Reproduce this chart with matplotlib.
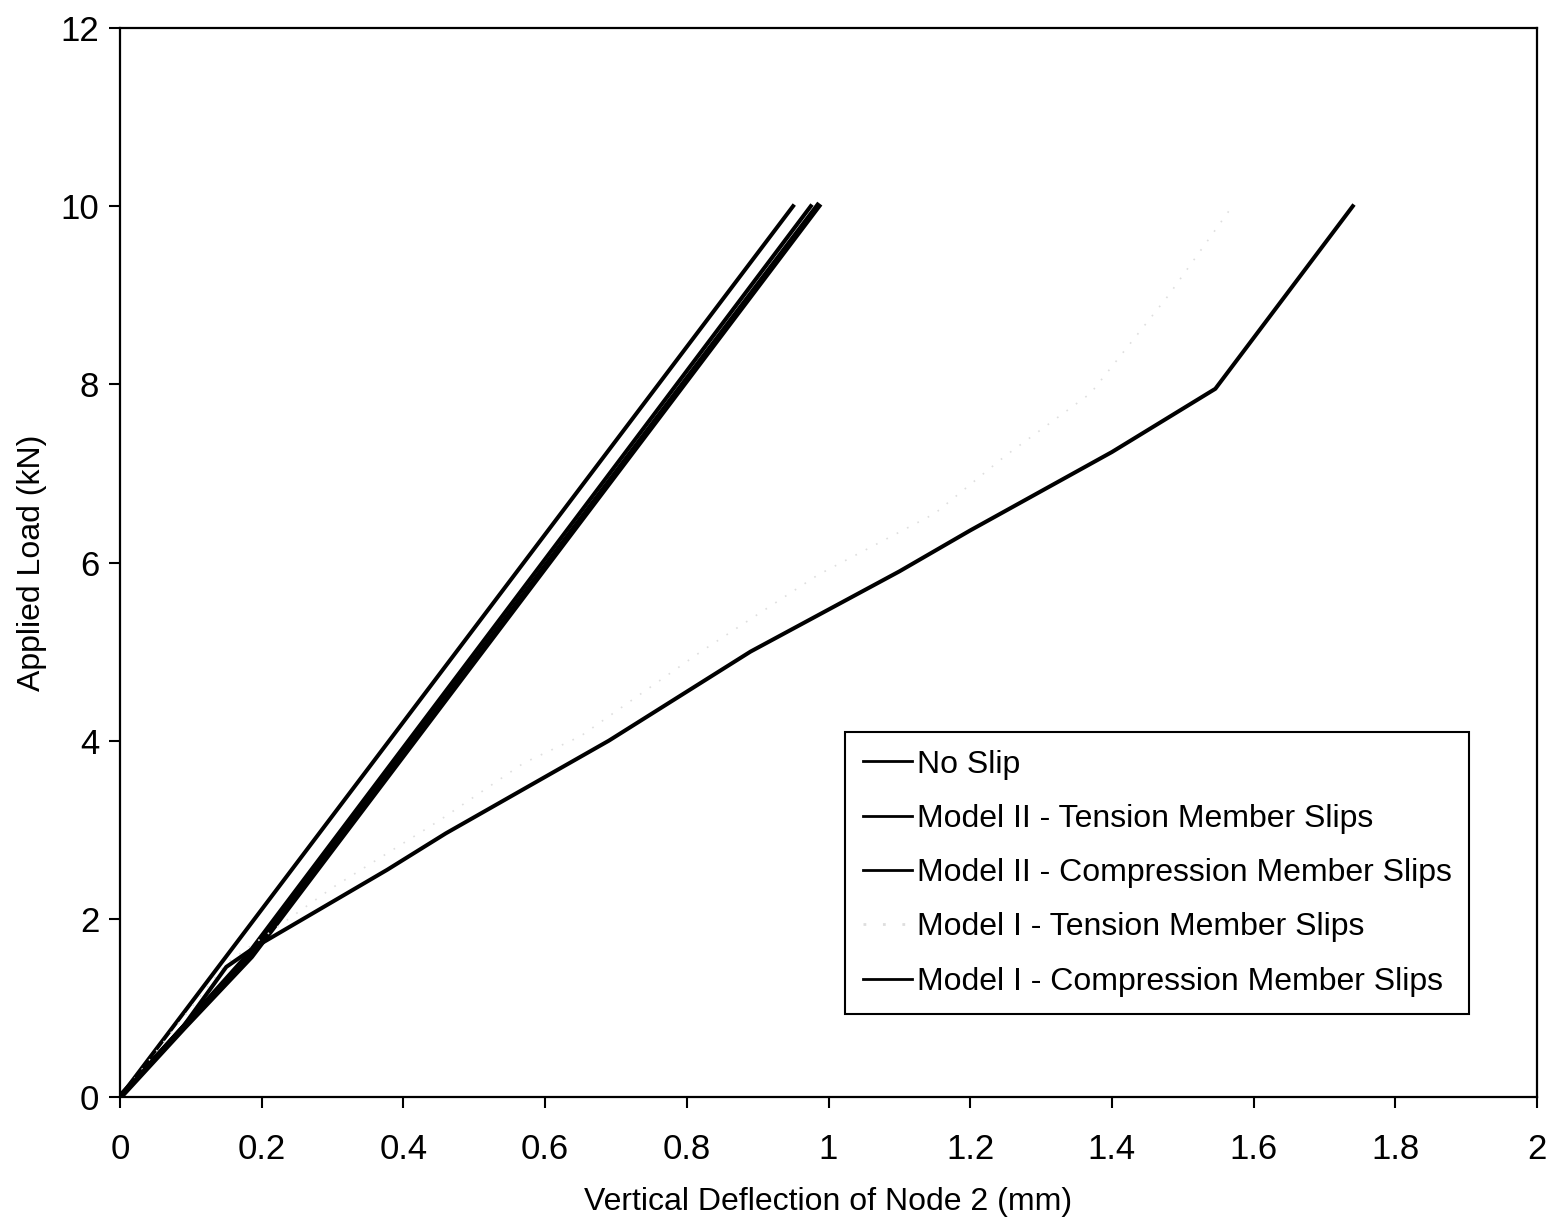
import matplotlib
matplotlib.use("Agg")
import matplotlib.pyplot as plt

plt.rcParams['font.family'] = ['Liberation Sans', 'DejaVu Sans']

# Data (deflection mm, load kN)
no_slip_x = [0.0, 0.95]
no_slip_y = [0.0, 10.0]

m2_tension_x = [0.0, 0.09, 0.18, 0.975]
m2_tension_y = [0.0, 0.80, 1.60, 10.0]

m2_comp_x = [0.0, 0.09, 0.185, 0.985]
m2_comp_y = [0.0, 0.78, 1.58, 10.0]

m1_tension_x = [0.0, 0.15, 0.30, 0.45, 0.57, 0.65, 0.82, 0.985, 1.15, 1.25, 1.37, 1.48, 1.57]
m1_tension_y = [0.0, 1.50, 2.35, 3.10, 3.75, 4.05, 5.00, 5.86, 6.55, 7.20, 7.90, 9.00, 10.0]

m1_comp_x = [0.0, 0.09, 0.15, 0.19, 0.377, 0.46, 0.69, 0.89, 1.10, 1.20, 1.40, 1.546, 1.74]
m1_comp_y = [0.0, 0.80, 1.46, 1.68, 2.55, 2.96, 4.00, 5.00, 5.90, 6.36, 7.24, 7.95, 10.0]

labels = ["No Slip",
          "Model II - Tension Member Slips",
          "Model II - Compression Member Slips",
          "Model I - Tension Member Slips",
          "Model I - Compression Member Slips"]

xticks = [0, 0.2, 0.4, 0.6, 0.8, 1, 1.2, 1.4, 1.6, 1.8, 2]
xticklabels = ["0", "0.2", "0.4", "0.6", "0.8", "1", "1.2", "1.4", "1.6", "1.8", "2"]
yticks = [0, 2, 4, 6, 8, 10, 12]

fig = plt.figure(figsize=(15.51, 12.23), dpi=100)
ax = fig.add_axes([120/1551, 1 - 1097/1223, (1537-120)/1551, (1097-28)/1223])

ax.plot(no_slip_x, no_slip_y, color='black', lw=2.9, label=labels[0])
ax.plot(m2_tension_x, m2_tension_y, color='black', lw=2.9, label=labels[1])
ax.plot(m2_comp_x, m2_comp_y, color='black', lw=4.6, label=labels[2])
ax.plot(m1_tension_x, m1_tension_y, color='#dedede', lw=1.2, linestyle=(0, (1, 6)), label=labels[3])
ax.plot(m1_comp_x, m1_comp_y, color='black', lw=2.9, label=labels[4])

ax.set_xlim(0, 2)
ax.set_ylim(0, 12)
ax.set_xticks(xticks)
ax.set_xticklabels(xticklabels)
ax.set_yticks(yticks)

fs_tick = 25
fs = 23
ax.tick_params(axis='both', direction='out', length=8, width=1.5, labelsize=fs_tick)
ax.tick_params(axis='x', pad=18)
ax.tick_params(axis='y', pad=7)
for s in ax.spines.values():
    s.set_linewidth(1.6)
    s.set_color('black')

ax.set_xlabel("Vertical Deflection of Node 2 (mm)", fontsize=fs, labelpad=15)
ax.set_ylabel("Applied Load (kN)", fontsize=fs, labelpad=10)

leg = ax.legend(loc='upper left', bbox_to_anchor=((845-120)/1417, (1097-732)/1069),
                borderaxespad=0, fontsize=fs, frameon=True, fancybox=False,
                edgecolor='black', framealpha=1, handlelength=1.55, handletextpad=0.15,
                labelspacing=0.76, borderpad=0.55)
leg.get_frame().set_linewidth(1.5)
for h in leg.get_lines():
    h.set_linewidth(2.0)

fig.savefig("out.png", dpi=100)
